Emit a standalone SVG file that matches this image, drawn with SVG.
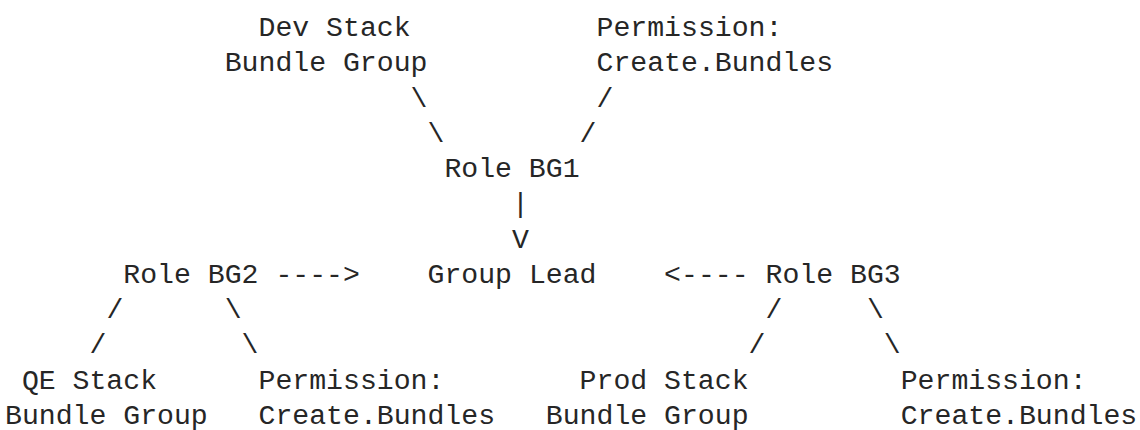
<svg xmlns="http://www.w3.org/2000/svg" width="1140" height="430" viewBox="0 0 1140 430">
<style>
text { font-family: "Liberation Mono", "DejaVu Sans Mono", monospace; font-size: 28.16px; fill: #262626; white-space: pre; }
</style>
<rect width="1140" height="430" fill="#ffffff"/>
<g id="node-dev-stack">
<text x="258.5" y="36">Dev Stack</text>
<text x="224.7" y="71.3">Bundle Group</text>
</g>
<g id="node-perm-top">
<text x="596.5" y="36">Permission:</text>
<text x="596.5" y="71.3">Create.Bundles</text>
</g>
<g id="node-role-bg1">
<text x="444.4" y="177.1">Role BG1</text>
</g>
<g id="node-group-lead">
<text x="427.5" y="282.9">Group Lead</text>
</g>
<g id="node-role-bg2">
<text x="123.3" y="282.9">Role BG2</text>
</g>
<g id="node-role-bg3">
<text x="765.5" y="282.9">Role BG3</text>
</g>
<g id="node-qe-stack">
<text x="21.9" y="388.7">QE Stack</text>
<text x="5" y="424">Bundle Group</text>
</g>
<g id="node-perm-bg2">
<text x="258.5" y="388.7">Permission:</text>
<text x="258.5" y="424">Create.Bundles</text>
</g>
<g id="node-prod-stack">
<text x="579.6" y="388.7">Prod Stack</text>
<text x="545.8" y="424">Bundle Group</text>
</g>
<g id="node-perm-bg3">
<text x="900.7" y="388.7">Permission:</text>
<text x="900.7" y="424">Create.Bundles</text>
</g>
<g id="connectors">
<text x="410.6" y="106.5">\</text>
<text x="427.5" y="141.8">\</text>
<text x="596.5" y="106.5">/</text>
<text x="579.6" y="141.8">/</text>
<text x="512" y="212.4">|</text>
<text x="512" y="247.6">V</text>
<text x="275.4" y="282.9">----&gt;</text>
<text x="664.1" y="282.9">&lt;----</text>
<text x="106.4" y="318.2">/</text>
<text x="89.5" y="353.4">/</text>
<text x="224.7" y="318.2">\</text>
<text x="241.6" y="353.4">\</text>
<text x="765.5" y="318.2">/</text>
<text x="748.6" y="353.4">/</text>
<text x="866.9" y="318.2">\</text>
<text x="883.8" y="353.4">\</text>
</g>
</svg>
